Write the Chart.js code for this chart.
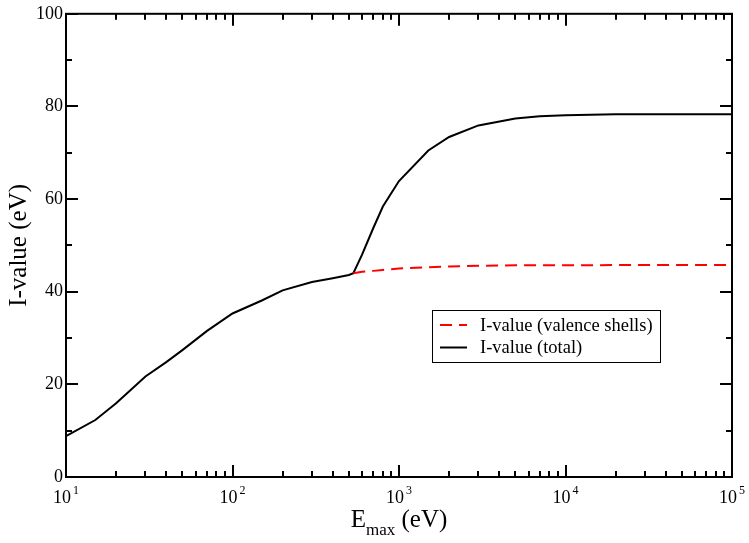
<!DOCTYPE html>
<html>
<head>
<meta charset="utf-8">
<script src="https://cdn.jsdelivr.net/npm/chart.js@4/dist/chart.umd.min.js"></script>
<style>
  body { margin: 0; background: #fff; }
  #wrap { width: 749px; height: 543px; position: relative; }
</style>
</head>
<body>
<div id="wrap"><canvas id="myChart"></canvas></div>
<script>
// values (E_max in eV, I-value in eV)
var energies = [10, 15, 20, 30, 40, 50, 70, 100, 150, 200, 300, 400, 500, 532,
                600, 700, 800, 900, 1000, 1500, 2000, 3000, 5000, 7000, 10000, 20000, 50000, 100000];
var totalI = [8.8, 12.3, 15.9, 21.7, 24.8, 27.4, 31.5, 35.3, 38.1, 40.3, 42.1, 42.9, 43.6, 44.0,
              48.0, 53.7, 58.4, 61.3, 63.9, 70.5, 73.4, 75.9, 77.4, 77.9, 78.1, 78.3, 78.3, 78.3];
// valence-only curve separates from the total above the K edge (~532 eV)
var valenceI = [null, null, null, null, null, null, null, null, null, null, null, null, null, 44.0,
                44.3, 44.5, 44.7, 44.85, 45.0, 45.3, 45.45, 45.6, 45.7, 45.7, 45.7, 45.75, 45.75, 45.75];
var xExponents = [1, 2, 3, 4, 5];
var yMajor = [0, 20, 40, 60, 80, 100];
var yMinor = [10, 30, 50, 70, 90];

var serif = "'Liberation Serif', 'Times New Roman', serif";

function pts(ys) {
    return energies.map(function (e, i) { return { x: e, y: ys[i] }; });
}

// frame, inward ticks, x labels with exponents, x title, legend box
var decorations = {
    id: 'decorations',
    afterDraw: function (chart) {
        var c = chart.ctx, a = chart.chartArea;
        var xs = chart.scales.x, ys = chart.scales.y;
        c.save();
        c.strokeStyle = '#000';
        c.lineWidth = 2;
        c.strokeRect(a.left, a.top, a.right - a.left, a.bottom - a.top);

        c.beginPath();
        xExponents.forEach(function (n, idx) {
            var px = Math.round(xs.getPixelForValue(Math.pow(10, n)));
            c.moveTo(px, a.bottom); c.lineTo(px, a.bottom - 12);
            c.moveTo(px, a.top); c.lineTo(px, a.top + 12);
            if (idx < xExponents.length - 1) {
                for (var k = 2; k <= 9; k++) {
                    var mx = Math.round(xs.getPixelForValue(k * Math.pow(10, n)));
                    c.moveTo(mx, a.bottom); c.lineTo(mx, a.bottom - 6);
                    c.moveTo(mx, a.top); c.lineTo(mx, a.top + 6);
                }
            }
        });
        yMajor.forEach(function (v) {
            var py = Math.round(ys.getPixelForValue(v));
            c.moveTo(a.left, py); c.lineTo(a.left + 12, py);
            c.moveTo(a.right, py); c.lineTo(a.right - 12, py);
        });
        yMinor.forEach(function (v) {
            var py = Math.round(ys.getPixelForValue(v));
            c.moveTo(a.left, py); c.lineTo(a.left + 6, py);
            c.moveTo(a.right, py); c.lineTo(a.right - 6, py);
        });
        c.stroke();

        // x tick labels 10^n
        c.fillStyle = '#000';
        c.textBaseline = 'alphabetic';
        c.textAlign = 'left';
        xExponents.forEach(function (n) {
            var px = xs.getPixelForValue(Math.pow(10, n));
            c.font = '18px ' + serif;
            var w1 = c.measureText('10').width;
            c.font = '12px ' + serif;
            var w2 = c.measureText(String(n)).width;
            var x0 = px - (w1 + w2 + 2) / 2;
            c.font = '18px ' + serif;
            c.fillText('10', x0, 503);
            c.font = '12px ' + serif;
            c.fillText(String(n), x0 + w1 + 2, 494);
        });

        // x title: E_max (eV)
        c.font = '25px ' + serif;
        var wE = c.measureText('E').width, wR = c.measureText(' (eV)').width;
        c.font = '17px ' + serif;
        var wS = c.measureText('max').width;
        var cx = (a.left + a.right) / 2;
        var tx = cx - (wE + wS + wR) / 2;
        c.font = '25px ' + serif;
        c.fillText('E', tx, 527);
        c.font = '17px ' + serif;
        c.fillText('max', tx + wE, 535);
        c.font = '25px ' + serif;
        c.fillText(' (eV)', tx + wE + wS, 527);

        // legend box
        var bx = 432, by = 310, bw = 228, bh = 52;
        c.fillStyle = '#fff';
        c.fillRect(bx, by, bw, bh);
        c.lineWidth = 1;
        c.strokeRect(bx + 0.5, by + 0.5, bw, bh);
        c.font = '18.5px ' + serif;
        c.textBaseline = 'middle';
        chart.data.datasets.forEach(function (ds, i) {
            var ly = by + 15 + i * 22.5;
            c.strokeStyle = ds.borderColor;
            c.lineWidth = 2;
            c.setLineDash(ds.borderDash || []);
            c.beginPath();
            c.moveTo(bx + 8, ly); c.lineTo(bx + 35, ly);
            c.stroke();
            c.setLineDash([]);
            c.fillStyle = '#000';
            c.fillText(ds.label, bx + 48, ly + 1);
        });
        c.restore();
    }
};

var ctx = document.getElementById('myChart').getContext('2d');
var chart = new Chart(ctx, {
    type: 'line',
    data: {
        datasets: [{
            label: 'I-value (valence shells)',
            data: pts(valenceI),
            borderColor: 'rgb(255, 0, 0)',
            borderDash: [12, 7],
            borderWidth: 2,
            pointRadius: 0,
            fill: false
        }, {
            label: 'I-value (total)',
            data: pts(totalI),
            borderColor: 'rgb(0, 0, 0)',
            borderWidth: 2,
            pointRadius: 0,
            fill: false
        }]
    },
    options: {
        responsive: true,
        maintainAspectRatio: false,
        animation: false,
        layout: { padding: { top: 11, right: 17, bottom: 0, left: 0 } },
        plugins: {
            legend: { display: false },
            tooltip: { enabled: false }
        },
        scales: {
            x: {
                type: 'logarithmic',
                min: 10,
                max: 100000,
                grid: { display: false, drawTicks: false },
                border: { display: false },
                ticks: { display: false },
                afterFit: function (s) { s.height = 66; }
            },
            y: {
                min: 0,
                max: 100,
                grid: { display: false, drawTicks: false },
                border: { display: false },
                ticks: {
                    stepSize: 20,
                    color: '#000',
                    padding: 3,
                    font: { family: serif, size: 18 }
                },
                title: {
                    display: true,
                    text: 'I-value (eV)',
                    color: '#000',
                    font: { family: serif, size: 25 },
                    padding: { top: 4, bottom: 0 }
                },
                afterFit: function (s) { s.width = 66; }
            }
        }
    },
    plugins: [decorations]
});
</script>
</body>
</html>
